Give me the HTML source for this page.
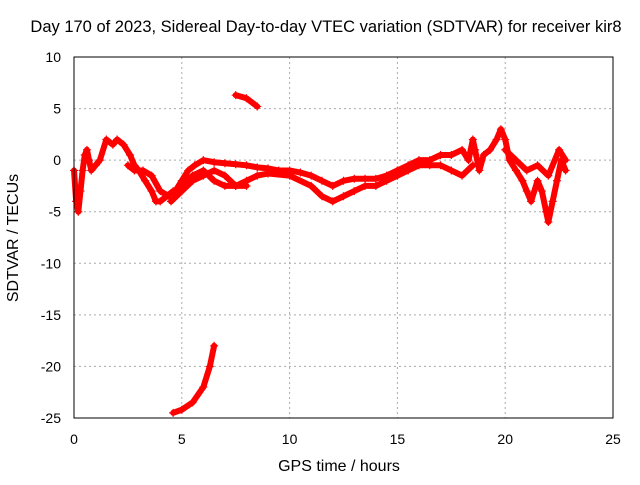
<!DOCTYPE html>
<html><head><meta charset="utf-8"><style>
body{margin:0;background:#fff;width:640px;height:480px;overflow:hidden}
svg{font-family:"Liberation Sans",sans-serif;font-size:14px}
</style></head><body>
<svg id="chart" width="640" height="480">
<rect x="0" y="0" width="640" height="480" fill="#fff"/>
<text x="326" y="32" text-anchor="middle" font-size="16.5">Day 170 of 2023, Sidereal Day-to-day VTEC variation (SDTVAR) for receiver kir8</text>
<text x="339" y="471" text-anchor="middle" font-size="16">GPS time / hours</text>
<text transform="translate(18,238) rotate(-90)" text-anchor="middle" font-size="16">SDTVAR / TECUs</text>
<g id="grid"></g><g id="marks"></g>
<rect x="74" y="57" width="539" height="361" fill="none" stroke="#000"/>
</svg>
<script>
const xTicks=[0,5,10,15,20,25];
const yTicks=[10,5,0,-5,-10,-15,-20,-25];
const s1x=[0,0.1,0.2,0.3,0.4,0.5,0.6,0.7,0.8,1.0,1.2,1.5,1.8,2.0,2.3,2.6,2.8,3.0,3.3,3.6,3.8,4.0,4.3,4.6];
const s1y=[-1,-4,-5,-3,-1,0.5,1,0,-1,-0.5,0,2,1.5,2,1.5,0.5,-0.5,-1,-2,-3,-4,-4,-3.5,-3];
const s2x=[2.5,2.8,3.2,3.6,4.0,4.4,4.7,5.0,5.3,5.6,6.0,6.5,7.0,7.5,8,8.5,9,9.5,10,10.5,11,11.5,12,12.5,13,13.5,14,14.5,15];
const s2y=[-0.5,-1,-1,-1.5,-3,-3.5,-3,-2,-1,-0.5,0,-0.2,-0.3,-0.4,-0.5,-0.7,-0.8,-1,-1,-1.2,-1.5,-2,-2.5,-2,-1.8,-1.8,-1.8,-1.5,-1];
const s3x=[4.5,5,5.5,6,6.5,7,7.5,8,8.5,9,10,11,11.5,12,12.5,13,13.5,14,14.5,15];
const s3y=[-3.5,-2.5,-1.5,-1,-2,-2.5,-2.5,-2,-1.5,-1.3,-1.5,-2.5,-3.5,-4,-3.5,-3,-2.5,-2.5,-2,-1.5];
const s4x=[4.5,5,5.5,6,6.5,7,7.5,8];
const s4y=[-4,-3,-2,-1.5,-1,-1.5,-2.5,-2.5];
const s5x=[15,15.5,16,16.5,17,17.5,18,18.3,18.5,18.6,18.8,19,19.3,19.6,19.8,20,20.2,20.5,20.8,21,21.2,21.5,21.7,21.9,22,22.2,22.4,22.6,22.8];
const s5y=[-1,-0.5,0,0,0.5,0.5,1,0,2,1,-1,0.5,1,2,3,2,0,-1,-2,-3,-4,-2,-3,-5,-6,-4,-2,0,-1];
const s6x=[15,15.5,16,16.5,17,17.5,18,18.5];
const s6y=[-1.5,-1,-0.5,-0.5,-0.5,-1,-1.5,-0.5];
const s7x=[20,20.5,21,21.5,22,22.5,22.8];
const s7y=[1,0,-1,-0.5,-1.5,1,0];
const s8x=[7.5,8,8.5];
const s8y=[6.3,6,5.2];
const s9x=[4.6,5,5.5,6,6.3,6.5];
const s9y=[-24.5,-24.2,-23.5,-22,-20,-18];
const series=[[s1x,s1y],[s2x,s2y],[s3x,s3y],[s4x,s4y],[s5x,s5y],[s6x,s6y],[s7x,s7y],[s8x,s8y],[s9x,s9y]];
const X=v=>74+v*539/25, Y=v=>57+(10-v)*361/35;
const NS="http://www.w3.org/2000/svg";
const g=document.getElementById('grid'), m=document.getElementById('marks');
function mk(t,a,p){const e=document.createElementNS(NS,t);for(const k in a)e.setAttribute(k,a[k]);p.appendChild(e);return e;}
xTicks.forEach(v=>{
 const l=mk('line',{x1:X(v),x2:X(v),y1:57,y2:418,stroke:'#aaa','stroke-dasharray':'2,3'},g);
 
 
 const t=mk('text',{x:X(v),y:444,'text-anchor':'middle'},g);t.textContent=v;
 
 
});
yTicks.forEach(v=>{
 const l=mk('line',{x1:74,x2:613,y1:Y(v),y2:Y(v),stroke:'#aaa','stroke-dasharray':'2,3'},g);
 
 
 const t=mk('text',{x:61,y:Y(v)+5,'text-anchor':'end'},g);t.textContent=v;
 
 
});
series.forEach(([xs,ys],i)=>{
 const pts=xs.map((x,j)=>X(x)+','+Y(ys[j])).join(' ');
 const pl=mk('polyline',{points:pts,fill:'none',stroke:'#f00','stroke-width':6,'stroke-linejoin':'round','stroke-linecap':'round'},m);
 
 
 xs.forEach((x,j)=>{
  const p=mk('path',{d:`M${X(x)-4},${Y(ys[j])}h8M${X(x)},${Y(ys[j])-4}v8`,stroke:'#f00','stroke-width':1.2},m);
  
  
 });
});
</script>
</body></html>
